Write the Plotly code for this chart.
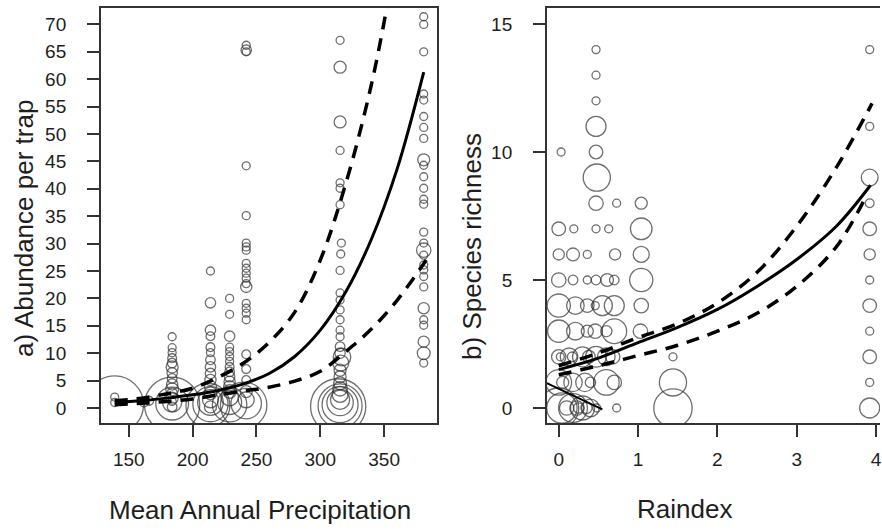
import plotly.graph_objects as go

# ---------------- Panel a: abundance vs mean annual precipitation ----------------
precip = [139, 139, 139,
          162, 166,
          184, 184, 184, 184, 184, 184, 184, 184, 184, 184, 184, 184, 184, 184, 184, 184, 184,
          214, 214, 214, 214, 214, 214, 214, 214, 214, 214, 214, 214, 214, 214, 214, 214, 212,
          229, 229, 229, 229, 229, 229, 229, 229, 229, 229, 229, 229, 229, 229, 229, 229,
          242, 242, 242, 242, 242, 242, 242, 242, 242, 242, 242, 242, 242, 242, 242, 242, 242, 242,
          242, 242, 242, 242, 242, 242, 240,
          315.5, 315.5, 315.5, 315.5, 315.5, 315.5, 315.5, 316.5, 316, 315.5, 315.5, 315.5, 315.5,
          315.5, 315.5, 315.5, 315.5, 315.5, 317, 316, 315.5, 315.5, 315.5, 315.5, 315.5, 315.5,
          315.5, 315.5, 315.5, 314,
          381, 381, 381, 381, 381, 381, 381, 381, 381, 381, 381, 381, 381, 381, 381, 381, 381,
          381, 381, 381, 381, 381, 381, 381, 381, 381, 381, 381]
abundance = [2.0, 1.0, 0.6,
             1.0, 1.3,
             13.0, 11.0, 10.1, 9.1, 8.2, 7.5, 6.4, 5.4, 4.3, 3.4, 2.7, 1.8, 1.2, 0.2, 1.0, 0.8, 0.6,
             25.0, 19.2, 14.2, 13.1, 11.1, 10.1, 8.8, 7.5, 6.3, 5.1, 3.9, 2.7, 1.5, 0.2, 1.0, 0.7, 0.5,
             20.0, 17.1, 13.1, 11.1, 10.3, 9.4, 8.5, 7.5, 6.6, 5.7, 4.8, 3.9, 3.0, 2.0, 1.0, 0.6,
             66.2, 65.3, 65.0, 44.2, 35.1, 30.1, 29.4, 28.8, 26.4, 25.5, 24.6, 23.7, 22.7, 22.1, 19.1,
             18.2, 17.3, 16.1, 9.8, 7.1, 5.1, 3.0, 1.5, 0.8, 0.5,
             67.1, 62.2, 52.2, 47.0, 41.1, 40.1, 37.1, 30.1, 28.1, 25.1, 21.0, 19.7, 17.9,
             16.1, 14.2, 13.0, 11.2, 10.0, 9.3, 8.2, 6.9, 5.7, 4.5, 3.5, 2.5, 1.5,
             1.0, 0.6, 0.4, 0.3,
             71.4, 70.0, 65.0, 57.3, 56.2, 53.2, 51.2, 49.2, 45.3, 44.3, 42.2, 40.1, 38.1, 37.2, 32.1,
             30.1, 28.8, 27.9, 26.1, 25.2, 24.0, 22.1, 18.2, 16.1, 15.1, 12.1, 10.0, 8.2]
weight_a = [1, 1, 7.2,
            1.1, 1.1,
            1, 1, 1, 1.1, 1.2, 1.5, 1.3, 1.2, 1.4, 1.6, 1.3, 1.5, 1, 1.2, 2.4, 4.1, 6.9,
            1, 1.3, 1.3, 1.1, 1.1, 1, 1.2, 1.3, 1.3, 1.4, 1.5, 1.6, 2.0, 1.5, 3.2, 4.4, 5.5,
            1, 1, 1.3, 1, 1, 1, 1, 1.1, 1.2, 1.3, 1.4, 1.5, 1.7, 2.2, 3.0, 4.3,
            1, 1.3, 1, 1, 1, 1, 1, 1, 1, 1, 1, 1, 1, 1.4, 1,
            1, 1, 1, 1.1, 1.1, 1.1, 1.5, 2.0, 3.8, 5.8,
            1, 1.5, 1.5, 1, 1, 1, 1, 1, 1, 1, 1, 1, 1,
            1, 1, 1, 1.2, 1.3, 2.2, 2.0, 1.5, 1.5, 1.6, 1.8, 2.0, 2.4,
            3.3, 4.5, 5.5, 6.9,
            1, 1, 1, 1, 1, 1, 1, 1, 1.5, 1, 1, 1, 1, 1, 1,
            1, 1.8, 1, 1, 1, 1, 1, 1.4, 1, 1, 1.4, 1.6, 1]

fit_a_x = [139, 160, 180, 200, 220, 240, 260, 280, 300, 320, 340, 360, 381]
fit_a_y = [0.95, 1.35, 1.8, 2.4, 3.2, 4.4, 6.3, 9.4, 14.2, 21.2, 30.8, 43.5, 61.3]
upper_a_x = [139, 160, 180, 200, 220, 240, 260, 280, 300, 320, 340, 356]
upper_a_y = [1.3, 1.8, 2.6, 3.6, 5.6, 8.2, 12.0, 17.5, 27.0, 41.0, 59.0, 78.0]
lower_a_x = [139, 160, 180, 200, 220, 240, 260, 280, 300, 320, 340, 360, 383]
lower_a_y = [0.6, 0.85, 1.2, 1.65, 2.4, 3.1, 3.8, 4.9, 6.7, 10.3, 14.4, 19.6, 27.0]

# ---------------- Panel b: species richness vs Raindex ----------------
raindex = [0.47, 3.92,
           0.47,
           0.47,
           0.47, 3.92,
           0.03, 0.47,
           0.48, 3.92,
           0.47, 0.73, 1.04, 3.92,
           0.0, 0.19, 0.47, 0.63, 1.04, 3.92,
           0.0, 0.18, 0.36, 0.71, 1.04, 3.92,
           0.0, 0.18, 0.36, 0.47, 0.61, 0.70, 1.04, 3.92,
           0.0, 0.21, 0.36, 0.46, 0.55, 0.70, 1.04, 3.92,
           0.0, 0.21, 0.36, 0.46, 0.60, 0.70, 1.03, 3.92,
           0.0, 0.02, 0.13, 0.17, 0.30, 0.38, 0.47, 0.60, 0.68, 1.44, 3.92,
           0.0, 0.05, 0.18, 0.33, 0.40, 0.60, 0.70, 1.44, 3.92,
           0.0, 0.04, 0.10, 0.18, 0.23, 0.25, 0.30, 0.35, 0.40, 0.48, 0.73, 1.44, 3.92]
richness = [14, 14,
            13,
            12,
            11, 11,
            10, 10,
            9, 9,
            8, 8, 8, 8,
            7, 7, 7, 7, 7, 7,
            6, 6, 6, 6, 6, 6,
            5, 5, 5, 5, 5, 5, 5, 5,
            4, 4, 4, 4, 4, 4, 4, 4,
            3, 3, 3, 3, 3, 3, 3, 3,
            2, 2, 2, 2, 2, 2, 2, 2, 2, 2, 2,
            1, 1, 1, 1, 1, 1, 1, 1, 1,
            0, 0, 0, 0, 0, 0, 0, 0, 0, 0, 0, 0, 0]
weight_b = [1, 1,
            1,
            1,
            2.5, 1,
            1, 1.7,
            3.4, 2.1,
            1.8, 1, 1.5, 1.1,
            1.7, 1, 1, 1, 2.7, 1.7,
            1.4, 1.6, 1, 1.4, 2.0, 1.4,
            1.8, 1.2, 1, 1.2, 1.6, 1.2, 2.9, 1,
            2.9, 2.2, 1.7, 1, 2.5, 2.5, 1.8, 1.7,
            2.8, 2.2, 1.5, 1.8, 1.4, 3.1, 1.8, 1,
            1.8, 1, 2.2, 1.2, 2.5, 1.6, 2.6, 2.2, 1.8, 1, 1.7,
            3.2, 1.5, 2.3, 2.3, 1.3, 3.2, 1.8, 3.4, 1,
            5.0, 3.8, 1.8, 3.6, 1.8, 1.3, 3.0, 1.4, 2.2, 1, 1, 4.8, 2.5]

fit_b_x = [0, 0.5, 1.0, 1.5, 2.0, 2.5, 3.0, 3.5, 3.93]
fit_b_y = [1.5, 1.95, 2.55, 3.15, 3.85, 4.75, 5.8, 7.1, 8.7]
upper_b_x = [0, 0.5, 1.0, 1.5, 2.0, 2.5, 3.0, 3.5, 3.95]
upper_b_y = [1.65, 2.15, 2.75, 3.3, 4.1, 5.3, 7.1, 9.4, 11.9]
lower_b_x = [0, 0.5, 1.0, 1.5, 2.0, 2.5, 3.0, 3.5, 3.88]
lower_b_y = [1.3, 1.65, 2.05, 2.45, 3.0, 3.7, 4.75, 6.3, 8.3]
extra_b_x = [-0.15, 0.55]
extra_b_y = [0.97, -0.05]

xticks_a = [150, 200, 250, 300, 350]
yticks_a = [0, 5, 10, 15, 20, 25, 30, 35, 40, 45, 50, 55, 60, 65, 70]
xticks_b = [0, 1, 2, 3, 4]
yticks_b = [0, 5, 10, 15]

# ---------------- figure ----------------
W, H = 882, 532
ML, MR, MT, MB = 0, 0, 8, 109
PH = H - MT - MB

FONT = "Liberation Sans, Arial, sans-serif"
INK = "#1e1e1e"
CIRC = "#333333"

fig = go.Figure()

bubble = dict(mode="markers", hoverinfo="skip", showlegend=False)
mk = dict(symbol="circle", color="rgba(0,0,0,0)", sizemode="diameter", sizeref=0.125,
          line=dict(color=CIRC, width=1.3))

fig.add_trace(go.Scatter(x=precip, y=abundance, marker=dict(size=weight_a, **mk),
                         xaxis="x", yaxis="y", **bubble))
fig.add_trace(go.Scatter(x=raindex, y=richness, marker=dict(size=weight_b, **mk),
                         xaxis="x2", yaxis="y2", **bubble))

solid = dict(color="black", width=3, shape="spline")
dashed = dict(color="black", width=3.5, dash="13px,9px", shape="spline")
for xs, ys, ln, ax, ay in [
    (fit_a_x, fit_a_y, solid, "x", "y"),
    (upper_a_x, upper_a_y, dashed, "x", "y"),
    (lower_a_x, lower_a_y, dashed, "x", "y"),
    (fit_b_x, fit_b_y, solid, "x2", "y2"),
    (upper_b_x, upper_b_y, dashed, "x2", "y2"),
    (lower_b_x, lower_b_y, dashed, "x2", "y2"),
    (extra_b_x, extra_b_y, dict(color="black", width=2), "x2", "y2"),
]:
    fig.add_trace(go.Scatter(x=xs, y=ys, mode="lines", line=ln, xaxis=ax, yaxis=ay,
                             hoverinfo="skip", showlegend=False))

axis_common = dict(showgrid=False, zeroline=False, showline=True, linecolor="#333",
                   linewidth=1.5, ticks="outside", ticklen=12, tickwidth=1.5, tickcolor="#333",
                   tickfont=dict(family=FONT, size=19, color=INK), ticklabeloverflow="allow")

fig.update_layout(
    width=W, height=H,
    margin=dict(l=ML, r=MR, t=MT, b=MB, pad=0),
    paper_bgcolor="white", plot_bgcolor="white",
    xaxis=dict(domain=[101 / W, 438 / W], range=[128.1, 391.4], tickvals=xticks_a,
               mirror=True, anchor="y", ticklabelstandoff=6, **axis_common),
    yaxis=dict(domain=[0, 1], range=[-2.74, 73.0], tickvals=yticks_a,
               mirror=True, anchor="x", ticklabelstandoff=17, **axis_common),
    xaxis2=dict(domain=[548 / W, 1.0], range=[-0.151, 4.05], tickvals=xticks_b,
                mirror=True, anchor="y2", ticklabelstandoff=6, **axis_common),
    yaxis2=dict(domain=[0, 1], range=[-0.586, 15.625], tickvals=yticks_b,
                mirror=False, anchor="x2", ticklabelstandoff=17, **axis_common),
)


def px(xp):
    return xp / W


def py(yp):
    return (H - MB - yp) / PH


title_font = dict(family=FONT, size=26, color=INK)
annos = [
    dict(text="Mean Annual Precipitation", x=px(261), y=py(510), textangle=0),
    dict(text="Raindex", x=px(686), y=py(509), textangle=0),
    dict(text="a) Abundance per trap", x=px(24), y=py(228), textangle=-90),
    dict(text="b) Species richness", x=px(473), y=py(246), textangle=-90),
]
for a in annos:
    fig.add_annotation(xref="paper", yref="paper", showarrow=False, xanchor="center",
                       yanchor="middle", font=title_font, **a)

fig.write_html("out.html")
